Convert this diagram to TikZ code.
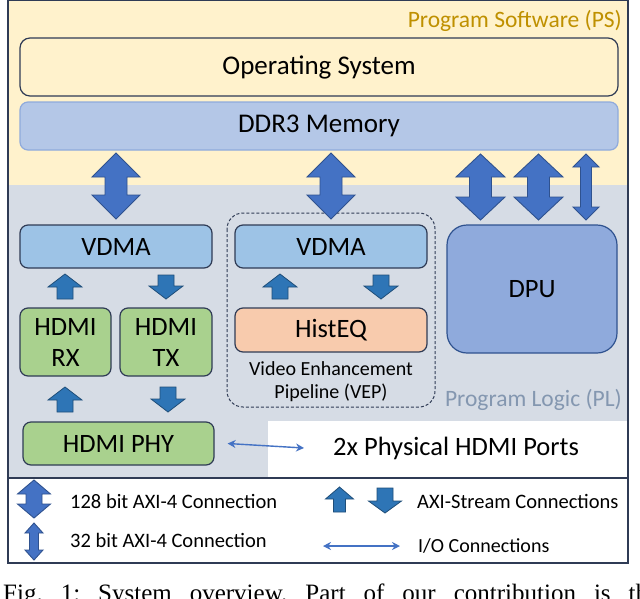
\documentclass[tikz,border=0pt]{standalone}
\usepackage{fontspec}
\setmainfont{Carlito}
\newfontfamily\capfont{Liberation Serif}
\usetikzlibrary{arrows.meta}
\definecolor{psbg}{HTML}{FFF2CC}
\definecolor{plbg}{HTML}{D6DCE5}
\definecolor{framecol}{HTML}{2F3B55}
\definecolor{ddrfill}{HTML}{B4C7E7}
\definecolor{ddrline}{HTML}{8FAADC}
\definecolor{vdmafill}{HTML}{9DC3E6}
\definecolor{hdmifill}{HTML}{A9D18E}
\definecolor{histfill}{HTML}{F8CBAD}
\definecolor{dpufill}{HTML}{8FAADC}
\definecolor{axifill}{HTML}{4472C4}
\definecolor{axiline}{HTML}{2F528F}
\definecolor{strfill}{HTML}{2E75B6}
\definecolor{strline}{HTML}{1F4E79}
\definecolor{pstext}{HTML}{BF9000}
\definecolor{pltext}{HTML}{8497B0}
\definecolor{boxline}{HTML}{2F3B55}
\newcommand\fsz[2]{\fontsize{#1}{#2}\selectfont}
% double block arrow: style, cx, ytop, ybot, headw, shaftw, headlen
\newcommand\dblarr[7]{\path[#1] (#2,#3) -- ({#2+#5/2},{#3+#7}) -- ({#2+#6/2},{#3+#7}) -- ({#2+#6/2},{#4-#7}) -- ({#2+#5/2},{#4-#7}) -- (#2,#4) -- ({#2-#5/2},{#4-#7}) -- ({#2-#6/2},{#4-#7}) -- ({#2-#6/2},{#3+#7}) -- ({#2-#5/2},{#3+#7}) -- cycle;}
% up block arrow: style, cx, ytip, ybase, headw, shaftw, headlen
\newcommand\uparr[7]{\path[#1] (#2,#3) -- ({#2+#5/2},{#3+#7}) -- ({#2+#6/2},{#3+#7}) -- ({#2+#6/2},#4) -- ({#2-#6/2},#4) -- ({#2-#6/2},{#3+#7}) -- ({#2-#5/2},{#3+#7}) -- cycle;}
% down block arrow: style, cx, ybase, ytip, headw, shaftw, headlen
\newcommand\downarr[7]{\path[#1] (#2,#4) -- ({#2+#5/2},{#4-#7}) -- ({#2+#6/2},{#4-#7}) -- ({#2+#6/2},#3) -- ({#2-#6/2},#3) -- ({#2-#6/2},{#4-#7}) -- ({#2-#5/2},{#4-#7}) -- cycle;}
\tikzset{
  blk/.style={draw=boxline, line width=1.2pt, rounded corners=8pt, inner sep=0pt, align=center, text=black, font=\fsz{26.5}{31}},
  axiarr/.style={fill=axifill, draw=axiline, line width=0.9pt},
  strarr/.style={fill=strfill, draw=strline, line width=0.8pt},
  ioarr/.style={draw=axifill, line width=1.4pt, {Stealth[length=8pt,width=8pt]}-{Stealth[length=8pt,width=8pt]}},
  legtext/.style={anchor=west, font=\fsz{20.5}{24}, inner sep=0pt},
}
\begin{document}
\begin{tikzpicture}[x=1pt,y=-1pt]
\useasboundingbox (0,0) rectangle (640,598);
% regions
\fill[psbg] (8,0) rectangle (628,185);
\fill[plbg] (8,185) rectangle (628,478);
\fill[white] (268,421) rectangle (628,478);
\fill[white] (8,478) rectangle (628,563);
\draw[framecol, line width=1.4pt] (8,0.7) rectangle (628,563);
\draw[framecol, line width=1.2pt] (8,478) -- (628,478);
\node[anchor=east, inner sep=0pt, text=pstext, font=\fsz{23.5}{28}] (pslabel) at (622,21) {Program Software (PS)};
\node[anchor=east, inner sep=0pt, text=pltext, font=\fsz{23.5}{28}] (pllabel) at (622,400) {Program Logic (PL)};
% boxes
\node[blk, fill=psbg, rounded corners=10pt, minimum width=598pt, minimum height=58pt, font=\fsz{27}{31}] (os) at (319,67) {Operating System};
\node[blk, fill=ddrfill, draw=ddrline, minimum width=598pt, minimum height=48pt, font=\fsz{27}{31}] (ddr) at (319,126) {DDR3 Memory};
\node[blk, fill=vdmafill, minimum width=192pt, minimum height=43pt] (vdma1) at (116,246.5) {VDMA};
\node[blk, fill=hdmifill, minimum width=91pt, minimum height=68pt, font=\fsz{26.5}{31}] (rx) at (65.5,342) {HDMI\\RX};
\node[blk, fill=hdmifill, minimum width=92pt, minimum height=68pt, font=\fsz{26.5}{31}] (tx) at (166,342) {HDMI\\TX};
\node[blk, fill=hdmifill, minimum width=191pt, minimum height=43pt] (phy) at (118.5,443.5) {HDMI PHY};
\draw[boxline, line width=1pt, dash pattern=on 3pt off 2pt, rounded corners=16pt] (227,213) rectangle (435,407);
\node[blk, fill=vdmafill, minimum width=192pt, minimum height=43pt] (vdma2) at (331,246.5) {VDMA};
\node[blk, fill=histfill, minimum width=192pt, minimum height=44pt] (hist) at (331,330) {HistEQ};
\node[align=center, font=\fsz{20}{23}, inner sep=0pt] (veplabel) at (331,382) {Video Enhancement\\Pipeline (VEP)};
\node[blk, fill=dpufill, draw=axiline, rounded corners=20pt, minimum width=170pt, minimum height=128pt] (dpu) at (532,289) {DPU};
\node[anchor=west, font=\fsz{26.5}{31}, inner sep=0pt] (ports) at (333,448) {2x Physical HDMI Ports};
% AXI-4 arrows
\dblarr{axiarr}{116}{153}{219}{48}{22}{24}
\dblarr{axiarr}{331}{153}{219}{48}{22}{24}
\dblarr{axiarr}{480.5}{154}{220}{49}{22}{23}
\dblarr{axiarr}{538.5}{154}{220}{49}{22}{23}
\dblarr{axiarr}{586}{154}{220}{26}{11}{13}
% AXI-stream arrows
\uparr{strarr}{65}{274}{299}{34}{16}{13}
\downarr{strarr}{166}{275}{299}{34}{16}{13}
\uparr{strarr}{65}{387}{412}{34}{16}{13}
\downarr{strarr}{168}{387}{412}{34}{16}{13}
\uparr{strarr}{280}{274}{299}{34}{16}{13}
\downarr{strarr}{381}{275}{299}{34}{16}{13}
% I/O
\draw[ioarr] ([xshift=13pt]phy.east) -- ([xshift=-29pt]ports.west);
% legend
\dblarr{axiarr}{34}{480}{518}{33}{16}{14}
\dblarr{axiarr}{34}{523}{560}{18}{9}{10}
\node[legtext] (l1) at (70,501) {128 bit AXI-4 Connection};
\node[legtext] (l2) at (70,540) {32 bit AXI-4 Connection};
\uparr{strarr}{339.5}{487}{512}{28}{12}{12}
\downarr{strarr}{385}{488}{513}{33}{16}{12}
\node[legtext] (l3) at (417,501) {AXI-Stream Connections};
\coordinate (ioa) at (323,546);
\coordinate (iob) at (400,546);
\draw[ioarr] (ioa) -- (iob);
\node[legtext, font=\fsz{20}{24}] (l4) at (418,546) {I/O Connections};
% caption (cut by the page edge, as in the reference)
\node[anchor=base west, inner sep=0pt, font=\capfont\fsz{25}{29}\frenchspacing] (cap) at (3,601) {\makebox[656pt][s]{Fig. 1: System overview. Part of our contribution is the}};
\end{tikzpicture}
\end{document}
